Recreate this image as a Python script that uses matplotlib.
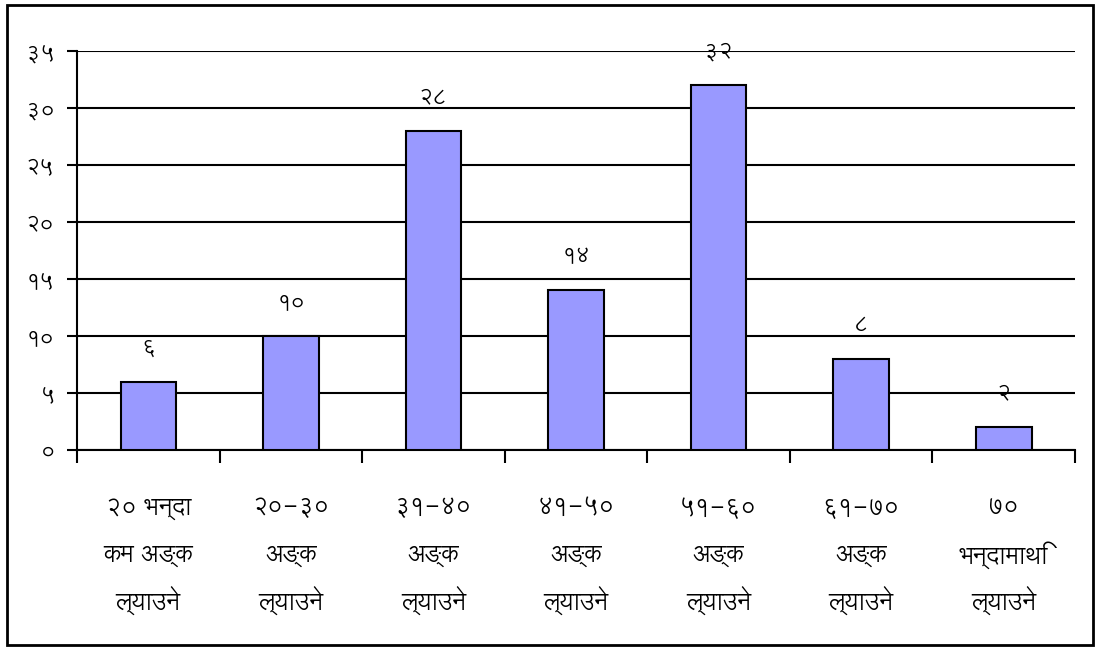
import matplotlib
matplotlib.use('Agg')
import matplotlib.pyplot as plt
from matplotlib.patches import Rectangle

# Devanagari fonts (fall back to DejaVu if missing)
plt.rcParams['font.family'] = ['Lohit Devanagari', 'Noto Sans Devanagari', 'DejaVu Sans']

# data
categories = [['२० भन्दा', 'कम अङ्क', 'ल्याउने'],
              ['२०-३०', 'अङ्क', 'ल्याउने'],
              ['३१-४०', 'अङ्क', 'ल्याउने'],
              ['४१-५०', 'अङ्क', 'ल्याउने'],
              ['५१-६०', 'अङ्क', 'ल्याउने'],
              ['६१-७०', 'अङ्क', 'ल्याउने'],
              ['७०', 'भन्दामाथि', 'ल्याउने']]
values = [6, 10, 28, 14, 32, 8, 2]
value_labels = ['६', '१०', '२८', '१४', '३२', '८', '२']
y_ticks = [0, 5, 10, 15, 20, 25, 30, 35]
y_tick_labels = ['०', '५', '१०', '१५', '२०', '२५', '३०', '३५']

fig = plt.figure(figsize=(10.99, 6.5), dpi=100)
ax = fig.add_axes([0.0701, 0.3077, 0.9081, 0.6138])

x = list(range(len(values)))
ax.bar(x, values, width=0.39, color='#9999FF', edgecolor='black', linewidth=1.5, zorder=3)

# value labels above bars
for xi, v, lab in zip(x, values, value_labels):
    ax.annotate(lab, (xi, v), xytext=(0, 24), textcoords='offset points',
                ha='center', va='center', fontsize=16)

ax.set_xlim(-0.5, len(values) - 0.5)
ax.set_ylim(0, 35)
ax.set_yticks(y_ticks)
ax.set_yticklabels(y_tick_labels, fontsize=16)
ax.yaxis.grid(True, color='black', linewidth=1.5, zorder=0)
ax.set_axisbelow(True)

# boundary ticks, category text lines centred under each bar
ax.set_xticks([i - 0.5 for i in range(len(values) + 1)])
ax.set_xticklabels([])
ax.tick_params(axis='x', length=9, width=1.5, direction='out')
ax.tick_params(axis='y', length=7, width=1.5, direction='out', pad=9)

line_offsets = [-42, -76, -109]
for xi, lines in zip(x, categories):
    for off, line in zip(line_offsets, lines):
        ax.annotate(line, (xi, 0), xytext=(0, off), textcoords='offset points',
                    ha='center', va='center', fontsize=17, annotation_clip=False)

for s in ['top', 'right']:
    ax.spines[s].set_visible(False)
ax.spines['left'].set_linewidth(1.5)
ax.spines['bottom'].set_linewidth(1.5)

# outer border
fig.patches.append(Rectangle((7 / 1099, 5 / 650), 1086 / 1099, 640 / 650,
                             transform=fig.transFigure, fill=False,
                             edgecolor='black', linewidth=2))

fig.savefig('out.png')
